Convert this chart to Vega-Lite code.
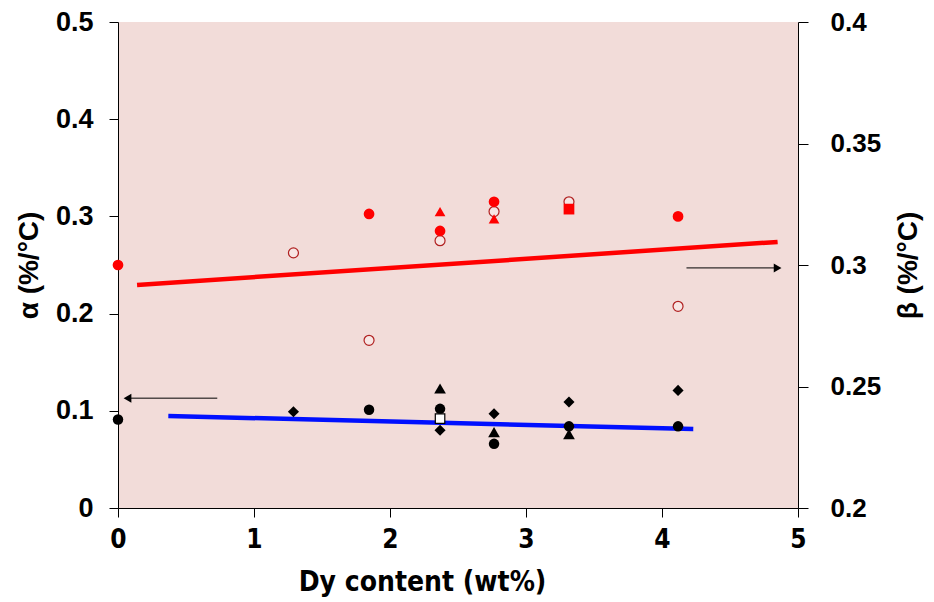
{
  "$schema": "https://vega.github.io/schema/vega-lite/v6.json",
  "width": 680,
  "height": 486,
  "autosize": "none",
  "padding": {"left": 118, "top": 22, "right": 136, "bottom": 94},
  "background": "white",
  "config": {
    "view": {"fill": "#f2dcd9", "stroke": null},
    "font": "Liberation Sans",
    "axis": {
      "domainColor": "black",
      "tickColor": "black",
      "labelColor": "black",
      "titleColor": "black",
      "grid": false,
      "labelFontWeight": "bold",
      "titleFontWeight": "bold"
    }
  },
  "datasets": {
    "alpha_points": [
      {"dy": 0, "a": 0.091, "marker": "circle", "fillStyle": "solid"},
      {"dy": 1.29, "a": 0.099, "marker": "diamond", "fillStyle": "solid"},
      {"dy": 1.846, "a": 0.101, "marker": "circle", "fillStyle": "solid"},
      {"dy": 2.368, "a": 0.123, "marker": "triangle", "fillStyle": "solid"},
      {"dy": 2.368, "a": 0.102, "marker": "circle", "fillStyle": "solid"},
      {"dy": 2.368, "a": 0.080, "marker": "diamond", "fillStyle": "solid"},
      {"dy": 2.368, "a": 0.092, "marker": "square", "fillStyle": "open"},
      {"dy": 2.765, "a": 0.097, "marker": "diamond", "fillStyle": "solid"},
      {"dy": 2.765, "a": 0.078, "marker": "triangle", "fillStyle": "solid"},
      {"dy": 2.765, "a": 0.066, "marker": "circle", "fillStyle": "solid"},
      {"dy": 3.316, "a": 0.109, "marker": "diamond", "fillStyle": "solid"},
      {"dy": 3.316, "a": 0.084, "marker": "circle", "fillStyle": "solid"},
      {"dy": 3.316, "a": 0.076, "marker": "triangle", "fillStyle": "solid"},
      {"dy": 4.118, "a": 0.121, "marker": "diamond", "fillStyle": "solid"},
      {"dy": 4.118, "a": 0.084, "marker": "circle", "fillStyle": "solid"}
    ],
    "beta_points": [
      {"dy": 0, "b": 0.300, "marker": "circle", "fillStyle": "solid"},
      {"dy": 1.29, "b": 0.305, "marker": "circle", "fillStyle": "open"},
      {"dy": 1.846, "b": 0.321, "marker": "circle", "fillStyle": "solid"},
      {"dy": 1.846, "b": 0.269, "marker": "circle", "fillStyle": "open"},
      {"dy": 2.368, "b": 0.310, "marker": "circle", "fillStyle": "open"},
      {"dy": 2.368, "b": 0.314, "marker": "circle", "fillStyle": "solid"},
      {"dy": 2.368, "b": 0.322, "marker": "triangle", "fillStyle": "solid"},
      {"dy": 2.765, "b": 0.326, "marker": "circle", "fillStyle": "solid"},
      {"dy": 2.765, "b": 0.322, "marker": "circle", "fillStyle": "open"},
      {"dy": 2.765, "b": 0.319, "marker": "triangle", "fillStyle": "solid"},
      {"dy": 3.316, "b": 0.326, "marker": "circle", "fillStyle": "open"},
      {"dy": 3.316, "b": 0.323, "marker": "square", "fillStyle": "solid"},
      {"dy": 4.118, "b": 0.320, "marker": "circle", "fillStyle": "solid"},
      {"dy": 4.118, "b": 0.283, "marker": "circle", "fillStyle": "open"}
    ],
    "alpha_fit": [
      {"dy": 0.37, "a": 0.0947},
      {"dy": 4.23, "a": 0.0813}
    ],
    "beta_fit": [
      {"dy": 0.14, "b": 0.2918},
      {"dy": 4.85, "b": 0.3095}
    ],
    "alpha_arrow": [
      {"dy": 0.07, "dyEnd": 0.73, "a": 0.113}
    ],
    "beta_arrow": [
      {"dy": 4.18, "dyEnd": 4.85, "b": 0.2988}
    ]
  },
  "encoding": {
    "x": {
      "field": "dy",
      "type": "quantitative",
      "scale": {"domain": [0, 5], "nice": false, "zero": false},
      "axis": {
        "title": "Dy content (wt%)",
        "values": [0, 1, 2, 3, 4, 5],
        "format": "d",
        "tickSize": 9,
        "labelFont": "DejaVu Sans Condensed, Liberation Sans",
        "labelFontSize": 26,
        "labelPadding": 9,
        "titleFont": "DejaVu Sans Condensed, Liberation Sans",
        "titleFontSize": 28,
        "titlePadding": 16,
        "titleX": 304,
        "domainWidth": 1,
        "labelFlush": false
      }
    }
  },
  "layer": [
    {
      "encoding": {
        "y": {
          "field": "a",
          "type": "quantitative",
          "scale": {"domain": [0, 0.5], "nice": false},
          "axis": {
            "orient": "left",
            "title": "α (%/°C)",
            "values": [0, 0.1, 0.2, 0.3, 0.4, 0.5],
            "labelExpr": "datum.value == 0 ? '0' : format(datum.value, '.1f')",
            "tickSize": 9,
            "labelPadding": 16,
            "labelFontSize": 27,
            "titleFontSize": 28,
            "titlePadding": 12
          }
        }
      },
      "layer": [
        {
          "data": {"name": "alpha_fit"},
          "mark": {"type": "line", "color": "#0010ff", "strokeWidth": 4.5},
          "encoding": {}
        },
        {
          "data": {"name": "alpha_arrow"},
          "mark": {"type": "rule", "color": "black", "strokeWidth": 1},
          "encoding": {"x2": {"field": "dyEnd"}}
        },
        {
          "data": {"name": "alpha_arrow"},
          "mark": {"type": "point", "shape": "triangle-left", "filled": true, "color": "black", "size": 80, "opacity": 1},
          "encoding": {}
        },
        {
          "data": {"name": "alpha_points"},
          "transform": [{"filter": "datum.fillStyle == 'solid'"}],
          "mark": {"type": "point", "filled": true, "color": "black", "opacity": 1},
          "encoding": {
            "shape": {
              "field": "marker",
              "type": "nominal",
              "scale": {"domain": ["circle", "diamond", "triangle", "square"], "range": ["circle", "diamond", "triangle-up", "square"]},
              "legend": null
            },
            "size": {
              "field": "marker",
              "type": "nominal",
              "scale": {"domain": ["circle", "diamond", "triangle", "square"], "range": [110, 150, 110, 90]},
              "legend": null
            }
          }
        },
        {
          "data": {"name": "alpha_points"},
          "transform": [{"filter": "datum.fillStyle == 'open'"}],
          "mark": {"type": "point", "shape": "square", "filled": false, "fill": "white", "stroke": "black", "strokeWidth": 1.2, "size": 90, "opacity": 1},
          "encoding": {}
        }
      ]
    },
    {
      "encoding": {
        "y": {
          "field": "b",
          "type": "quantitative",
          "scale": {"domain": [0.2, 0.4], "nice": false, "zero": false},
          "axis": {
            "orient": "right",
            "title": "β (%/°C)",
            "values": [0.2, 0.25, 0.3, 0.35, 0.4],
            "labelExpr": "format(datum.value, '.2~f')",
            "tickSize": 10,
            "labelPadding": 22,
            "labelFontSize": 26,
            "titleFontSize": 28,
            "titleAngle": 270,
            "titlePadding": 42
          }
        }
      },
      "layer": [
        {
          "data": {"name": "beta_fit"},
          "mark": {"type": "line", "color": "#ff0000", "strokeWidth": 4.5},
          "encoding": {}
        },
        {
          "data": {"name": "beta_arrow"},
          "mark": {"type": "rule", "color": "black", "strokeWidth": 1},
          "encoding": {"x2": {"field": "dyEnd"}}
        },
        {
          "data": {"name": "beta_arrow"},
          "mark": {"type": "point", "shape": "triangle-right", "filled": true, "color": "black", "size": 80, "opacity": 1},
          "encoding": {"x": {"field": "dyEnd", "type": "quantitative"}}
        },
        {
          "data": {"name": "beta_points"},
          "transform": [{"filter": "datum.fillStyle == 'open'"}],
          "mark": {"type": "point", "shape": "circle", "filled": false, "fill": "#f7e6e4", "stroke": "#b02020", "strokeWidth": 1.2, "size": 100, "opacity": 1},
          "encoding": {}
        },
        {
          "data": {"name": "beta_points"},
          "transform": [{"filter": "datum.fillStyle == 'solid'"}],
          "mark": {"type": "point", "filled": true, "color": "#ff0000", "size": 115, "opacity": 1},
          "encoding": {
            "shape": {
              "field": "marker",
              "type": "nominal",
              "scale": {"domain": ["circle", "diamond", "triangle", "square"], "range": ["circle", "diamond", "triangle-up", "square"]},
              "legend": null
            }
          }
        }
      ]
    }
  ],
  "resolve": {"scale": {"y": "independent", "shape": "independent", "size": "independent"}}
}
